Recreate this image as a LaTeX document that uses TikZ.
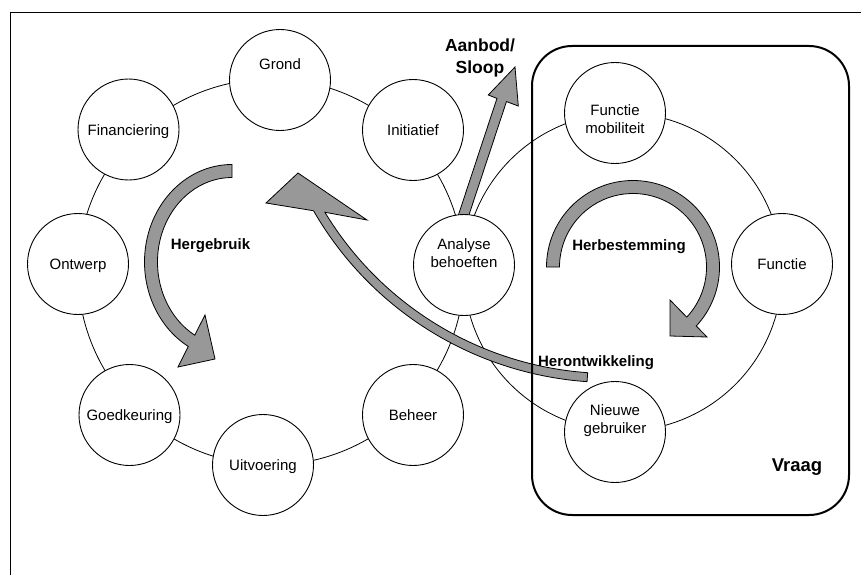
\documentclass[tikz,border=0pt]{standalone}
\usepackage{fontspec}
\setmainfont{Liberation Sans}
\usetikzlibrary{calc}
\definecolor{arrowgray}{RGB}{152,152,152}
\begin{document}
\begin{tikzpicture}[x=1pt, y=-1pt,
  bubble/.style={circle, draw, line width=0.9pt, fill=white, minimum size=101pt,
    inner sep=0pt, font=\fontsize{15}{18}\selectfont, text height=11.7pt, text depth=0pt},
  inner text/.style={anchor=north, inner sep=0pt, align=center,
    font=\fontsize{15}{18}\selectfont},
  ring/.style={line width=0.8pt},
  blockarrow/.style={draw=black, line width=0.8pt, fill=arrowgray, line join=miter},
  tag/.style={inner sep=0pt, font=\bfseries\fontsize{15}{18}\selectfont},
  bigtag/.style={inner sep=0pt, align=center, font=\bfseries\fontsize{17.5}{21.6}\selectfont},
]
\useasboundingbox (0,0) rectangle (861,575);

% frame
\draw[line width=1.4pt] (10.5,575) -- (10.5,12.5) -- (861,12.5);

% the two cycles
\draw[ring] (271,272) circle[radius=193];
\draw[ring] (623,272) circle[radius=159];

% Hergebruik: block arc turning left and down
\coordinate (hc) at (232,262);
\filldraw[blockarrow] (232,164.5) arc[start angle=270, end angle=120, x radius=87.5, y radius=97.5]
  -- (178,367) -- (215,359) -- (205,315)
  -- ($(hc)+(120:74.5 and 84.5)$) arc[start angle=120, end angle=270, x radius=74.5, y radius=84.5]
  -- cycle;

% Herbestemming: block arc turning right and down
\coordinate (bc) at (633,267);
\filldraw[blockarrow] (546.5,267) arc[start angle=180, end angle=403, radius=86.5]
  -- (707,337) -- (670,336) -- (670,300)
  -- ($(bc)+(403:73.5)$) arc[start angle=403, end angle=180, radius=73.5]
  -- cycle;

% Herontwikkeling: long arc back to the left cycle
\coordinate (oc) at (611,39);
\filldraw[blockarrow] ($(oc)+(94:343.5)$) arc[start angle=94, end angle=150, radius=343.5]
  -- (266,203) -- (298,173) -- (367,220)
  -- ($(oc)+(148.8:334.5)$) arc[start angle=148.8, end angle=94, radius=334.5]
  -- cycle;

% Aanbod/Sloop arrow leaving the analysis step
\filldraw[blockarrow] (456.1,221.9) -- (496.95,98.43) -- (488.3,95) -- (515,67)
  -- (518.3,106) -- (506.45,101.57) -- (465.6,225.1) -- cycle;

% demand frame
\draw[line width=2pt, rounded corners=40pt] (532,46) rectangle (849,515);

% steps of the left cycle
\node[bubble, text height=0pt, text depth=20pt] (grond) at (280,80) {Grond};
\node[bubble] (initiatief) at (413,130) {Initiatief};
\node[bubble] (financiering) at (128.5,129.5) {Financiering};
\node[bubble] (ontwerp) at (78,264) {Ontwerp};
\node[bubble, label={[inner text, yshift=12pt]center:Analyse\\behoeften}] (analyse) at (464,265) {};
\node[bubble] (goedkeuring) at (129.5,415) {Goedkeuring};
\node[bubble] (beheer) at (413,415) {Beheer};
\node[bubble] (uitvoering) at (263,465) {Uitvoering};

% steps of the right cycle
\node[bubble, label={[inner text, yshift=-6pt]center:Functie\\mobiliteit}] (mobiliteit) at (615,113) {};
\node[bubble] (functie) at (782,264) {Functie};
\node[bubble, label={[inner text, yshift=11pt]center:Nieuwe\\gebruiker}] (nieuwe) at (615,432) {};

% labels
\node[tag, anchor=base] (hergebruik) at (210.5,249) {Hergebruik};
\node[tag, anchor=base] (herbestemming) at (629,250) {Herbestemming};
\node[tag, anchor=base] (herontwikkeling) at (596,366.5) {Herontwikkeling};
\node[bigtag, anchor=north] (aanbod) at (480,39) {Aanbod/\\Sloop};
\node[inner sep=0pt, font=\bfseries\fontsize{18.5}{22}\selectfont, anchor=base] (vraag) at (797,471.7) {Vraag};
\end{tikzpicture}
\end{document}
